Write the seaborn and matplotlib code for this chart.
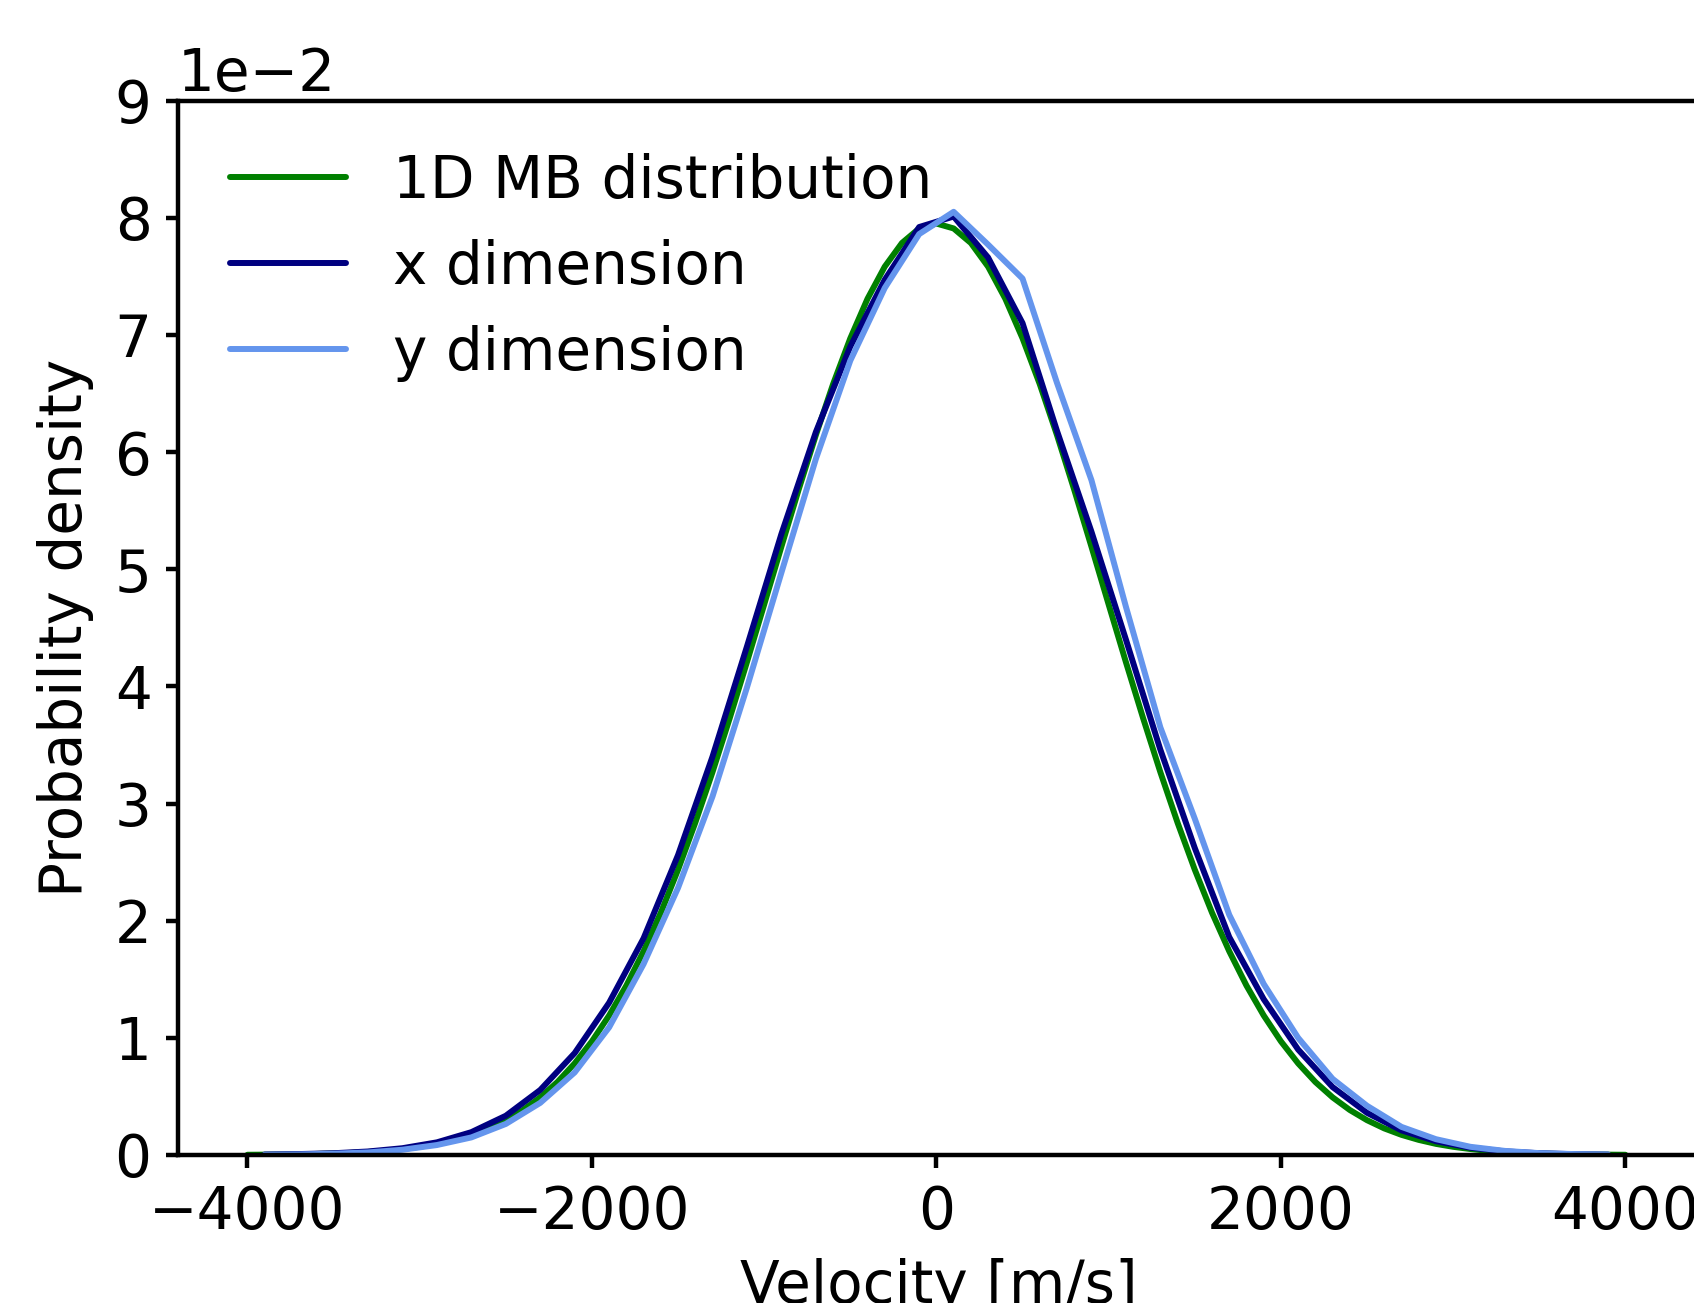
import matplotlib
matplotlib.use("Agg")
import matplotlib.pyplot as plt
import seaborn as sns
import numpy as np

# 1D Maxwell-Boltzmann curve, sampled every 100 m/s (values in units of 1e-2)
mb_velocity = np.arange(-4000, 4001, 100)
mb_density = [
    0.002, 0.003, 0.004, 0.006, 0.009, 0.013, 0.018, 0.026, 0.036, 0.051,
    0.070, 0.095, 0.129, 0.172, 0.227, 0.297, 0.384, 0.492, 0.623, 0.782,
    0.970, 1.191, 1.446, 1.739, 2.068, 2.435, 2.836, 3.268, 3.728, 4.207,
    4.698, 5.192, 5.678, 6.144, 6.579, 6.970, 7.308, 7.582, 7.784, 7.908,
    7.950,
    7.908, 7.784, 7.582, 7.308, 6.970, 6.579, 6.144, 5.678, 5.192, 4.698,
    4.207, 3.728, 3.268, 2.836, 2.435, 2.068, 1.739, 1.446, 1.191, 0.970,
    0.782, 0.623, 0.492, 0.384, 0.297, 0.227, 0.172, 0.129, 0.095, 0.070,
    0.051, 0.036, 0.026, 0.018, 0.013, 0.009, 0.006, 0.004, 0.003, 0.002,
]

# histogram bin centres of the simulated velocities
bin_centres = np.arange(-3900, 3901, 200)
x_density = [
    0.004, 0.008, 0.015, 0.030, 0.058, 0.108, 0.195, 0.335, 0.555, 0.870,
    1.300, 1.850, 2.560, 3.400, 4.340, 5.300, 6.170, 6.900, 7.470, 7.920,
    8.010, 7.660, 7.100, 6.180, 5.320, 4.400, 3.460, 2.620, 1.860, 1.330,
    0.900, 0.580, 0.360, 0.210, 0.118, 0.062, 0.031, 0.015, 0.007, 0.003,
]
y_density = [
    0.002, 0.005, 0.011, 0.022, 0.045, 0.085, 0.150, 0.265, 0.445, 0.705,
    1.090, 1.630, 2.280, 3.060, 3.990, 4.970, 5.940, 6.780, 7.400, 7.860,
    8.050, 7.770, 7.480, 6.590, 5.760, 4.680, 3.650, 2.870, 2.050, 1.460,
    1.000, 0.650, 0.420, 0.240, 0.135, 0.070, 0.035, 0.016, 0.008, 0.004,
]

sns.set_style("ticks", {"axes.edgecolor": "black", "text.color": "black",
                        "axes.labelcolor": "black", "xtick.color": "black",
                        "ytick.color": "black"})
plt.rcParams["font.family"] = ["DejaVu Sans"]
plt.rcParams["font.size"] = 41.8
plt.rcParams["axes.linewidth"] = 3.2

fig = plt.figure(figsize=(16.94, 13.03), dpi=100)
ax = fig.add_axes([178 / 1694, 148 / 1303, 1522 / 1694, 1054.5 / 1303])

lw = 4.3
sns.lineplot(x=mb_velocity, y=np.array(mb_density) * 1e-2, color="green",
             lw=lw, label="1D MB distribution", ax=ax)
sns.lineplot(x=bin_centres, y=np.array(x_density) * 1e-2, color="navy",
             lw=lw, label="x dimension", ax=ax)
sns.lineplot(x=bin_centres, y=np.array(y_density) * 1e-2, color="cornflowerblue",
             lw=lw, label="y dimension", ax=ax)

ax.set_xlim(-4403, 4433)
ax.set_ylim(0, 0.09)
ax.set_xticks([-4000, -2000, 0, 2000, 4000])
ax.set_yticks(np.arange(0, 0.0901, 0.01))
ax.ticklabel_format(axis="y", style="sci", scilimits=(0, 0))
ax.tick_params(axis="both", length=9, width=3.2, labelsize=41.8)
ax.tick_params(axis="x", pad=12)
ax.tick_params(axis="y", pad=10)
ax.yaxis.get_offset_text().set_fontsize(41.8)
ax.yaxis.OFFSETTEXTPAD = 7

ax.set_xlabel("Velocity [m/s]", labelpad=12)
ax.set_ylabel("Probability density", labelpad=15)
ax.legend(loc="upper left", frameon=False, fontsize=41.8)

fig.savefig("out.png", dpi=100)
